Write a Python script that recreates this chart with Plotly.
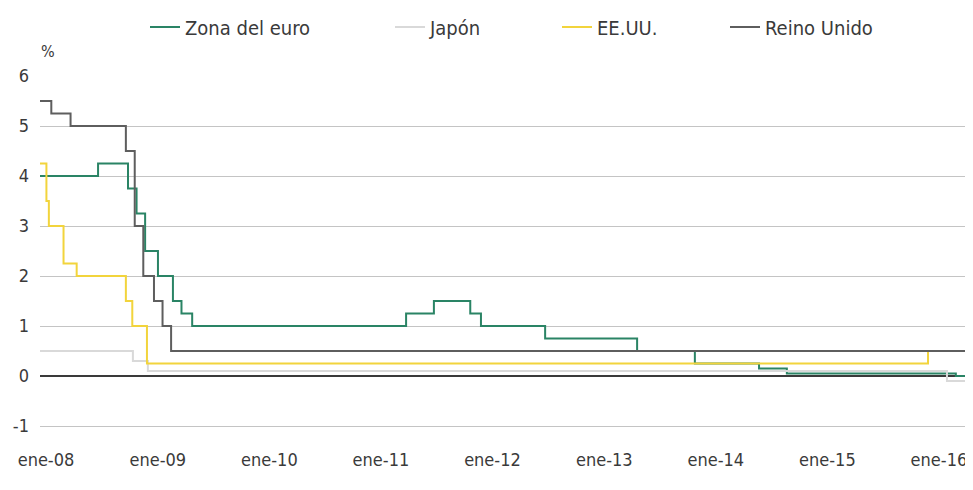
import plotly.graph_objects as go

# Step-change dates and policy rates (%)
euro_dates = ["2008-01-01", "2008-07-09", "2008-10-15", "2008-11-12", "2008-12-10",
              "2009-01-21", "2009-03-11", "2009-04-08", "2009-05-13", "2011-04-13",
              "2011-07-13", "2011-11-09", "2011-12-14", "2012-07-11", "2013-05-08",
              "2013-11-13", "2014-06-11", "2014-09-10", "2016-03-16", "2016-04-15"]
euro_rates = [4.0, 4.25, 3.75, 3.25, 2.5, 2.0, 1.5, 1.25, 1.0, 1.25,
              1.5, 1.25, 1.0, 0.75, 0.5, 0.25, 0.15, 0.05, 0.0, 0.0]

japan_dates = ["2008-01-01", "2008-10-31", "2008-12-19", "2016-02-16", "2016-04-15"]
japan_rates = [0.5, 0.3, 0.1, -0.1, -0.1]

us_dates = ["2008-01-01", "2008-01-22", "2008-01-30", "2008-03-18", "2008-04-30",
            "2008-10-08", "2008-10-29", "2008-12-16", "2015-12-16", "2016-04-15"]
us_rates = [4.25, 3.5, 3.0, 2.25, 2.0, 1.5, 1.0, 0.25, 0.5, 0.5]

uk_dates = ["2008-01-01", "2008-02-07", "2008-04-10", "2008-10-08", "2008-11-06",
            "2008-12-04", "2009-01-08", "2009-02-05", "2009-03-05", "2016-04-15"]
uk_rates = [5.5, 5.25, 5.0, 4.5, 3.0, 2.0, 1.5, 1.0, 0.5, 0.5]

tick_dates = ["2008-01-01", "2009-01-01", "2010-01-01", "2011-01-01", "2012-01-01",
              "2013-01-01", "2014-01-01", "2015-01-01", "2016-01-01"]
tick_labels = ["ene-08", "ene-09", "ene-10", "ene-11", "ene-12",
               "ene-13", "ene-14", "ene-15", "ene-16"]
y_ticks = [-1, 0, 1, 2, 3, 4, 5, 6]
y_tick_labels = ["-1", "0", "1", "2", "3", "4", "5", "6"]

FONT = "DejaVu Sans Condensed, Liberation Sans Narrow, Arial Narrow, sans-serif"
TXT = "#3a3a3a"

# page has an 8px body margin: figure is offset by (8, 8)
OFF = 8
W, H = 965, 482
L, R, T, B = 40 - OFF, 8, 76 - OFF, 61
PW, PH = W - L - R, H - T - B

series = [
    ("Zona del euro", euro_dates, euro_rates, "#2a8465"),
    ("Japón", japan_dates, japan_rates, "#d9d9d9"),
    ("EE.UU.", us_dates, us_rates, "#f2d43c"),
    ("Reino Unido", uk_dates, uk_rates, "#5e5e5e"),
]
legend_left_px = [145, 390, 557, 725]  # page pixels

fig = go.Figure()
legend_layout = {}
for i, ((name, xs, ys, col), lx) in enumerate(zip(series, legend_left_px)):
    key = "legend" if i == 0 else f"legend{i + 1}"
    fig.add_trace(go.Scatter(x=xs, y=ys, name=name, mode="lines",
                             line=dict(color=col, width=2, shape="hv"),
                             legend=key, hoverinfo="x+y+name"))
    legend_layout[key] = dict(orientation="h", x=(lx - 40) / PW, xanchor="left",
                              y=1 + (76 - 27) / PH, yanchor="middle",
                              font=dict(family=FONT, size=20, color=TXT),
                              bgcolor="rgba(0,0,0,0)", borderwidth=0)

fig.update_layout(
    width=W, height=H,
    margin=dict(l=L, r=R, t=T, b=B, autoexpand=False),
    paper_bgcolor="white", plot_bgcolor="white",
    font=dict(family=FONT, size=18, color=TXT),
    showlegend=True,
    xaxis=dict(type="date", range=["2008-01-01", "2016-04-15"],
               tickmode="array", tickvals=tick_dates, ticktext=tick_labels,
               showgrid=False, zeroline=False, showline=False, ticks="",
               automargin=False,
               ticklabelstandoff=18, ticklabelshift=6,
               tickfont=dict(family=FONT, size=18, color=TXT)),
    yaxis=dict(range=[-1.06, 6], tickmode="array", tickvals=y_ticks,
               ticktext=y_tick_labels,
               showgrid=True, gridcolor="#c4c4c4", gridwidth=1,
               zeroline=True, zerolinecolor="#3a3a3a", zerolinewidth=2,
               showline=False, ticks="", ticklabelstandoff=10, automargin=False,
               tickfont=dict(family=FONT, size=18, color=TXT)),
    annotations=[dict(text="%", xref="paper", yref="paper", x=(48 - 40) / PW,
                      y=1 + (76 - 52) / PH,
                      xanchor="center", yanchor="middle", showarrow=False,
                      font=dict(family=FONT, size=16, color=TXT))],
    **legend_layout,
)

fig.write_html("out.html")
